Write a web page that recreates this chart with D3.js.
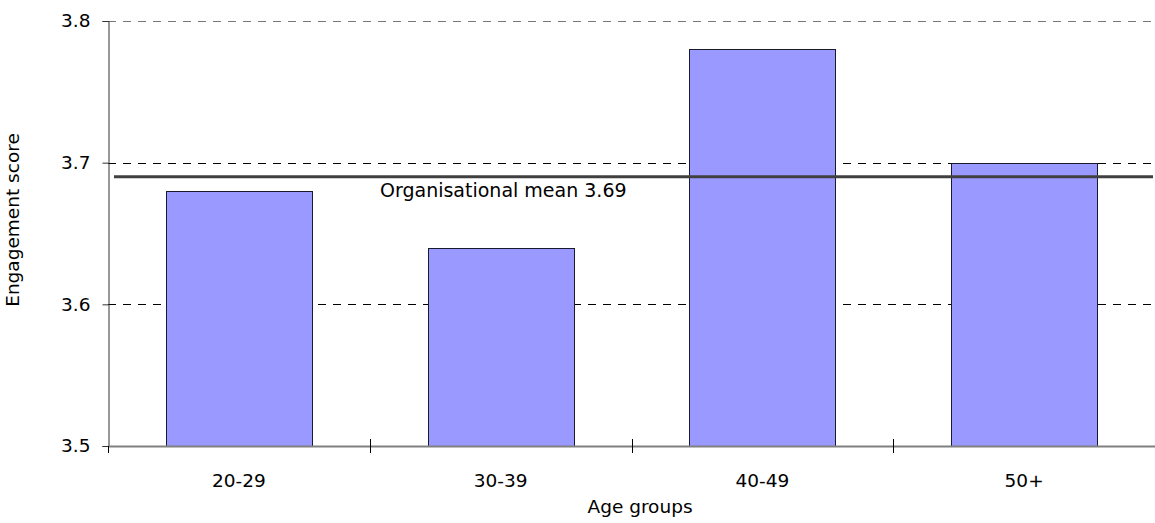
<!DOCTYPE html>
<html>
<head>
<meta charset="utf-8">
<script src="https://cdn.jsdelivr.net/npm/d3@7"></script>
<style>
  html, body { margin: 0; padding: 0; background: #fff; }
  svg text { font-family: "DejaVu Sans", sans-serif; fill: #000; }
</style>
</head>
<body>
<svg id="chart" width="1155" height="523"></svg>
<script>
// Engagement score by age group
const ageGroups = ["20-29", "30-39", "40-49", "50+"];
const scores = [3.68, 3.64, 3.78, 3.70];
const yTicks = [3.5, 3.6, 3.7, 3.8];
const orgMean = 3.69;
const meanLabel = "Organisational mean 3.69";

const svg = d3.select("#chart");
const margin = { left: 108, right: 0, top: 21, bottom: 77 };
const W = 1155, H = 523;
const fs = 18.5;

const x = d3.scaleBand()
  .domain(ageGroups)
  .range([margin.left, W - margin.right])
  .paddingInner(0.443)
  .paddingOuter(0.2215);

const y = d3.scaleLinear()
  .domain([3.5, 3.8])
  .range([H - margin.bottom, margin.top]);

// dashed gridlines
svg.append("g")
  .selectAll("line")
  .data(yTicks.filter(v => v > 3.5))
  .join("line")
  .attr("x1", margin.left)
  .attr("x2", W)
  .attr("y1", d => Math.round(y(d)) + 0.5)
  .attr("y2", d => Math.round(y(d)) + 0.5)
  .attr("stroke", d => d === 3.8 ? "#777" : "#000")
  .attr("stroke-width", 1)
  .attr("stroke-dasharray", "8,7");

// bars
svg.append("g")
  .selectAll("rect")
  .data(ageGroups)
  .join("rect")
  .attr("x", d => Math.round(x(d)) + 0.5)
  .attr("width", Math.round(x.bandwidth()))
  .attr("y", (d, i) => Math.round(y(scores[i])) + 0.5)
  .attr("height", (d, i) => Math.round(y(3.5)) - Math.round(y(scores[i])))
  .attr("fill", "#9999ff")
  .attr("stroke", "#1a1a2e")
  .attr("stroke-width", 1);

// organisational mean line
svg.append("line")
  .attr("x1", margin.left + 6)
  .attr("x2", W - 2)
  .attr("y1", y(orgMean))
  .attr("y2", y(orgMean))
  .attr("stroke", "#404040")
  .attr("stroke-width", 3);

svg.append("text")
  .attr("x", 380)
  .attr("y", y(orgMean) + 20)
  .attr("font-size", 19)
  .text(meanLabel);

// y axis
const yAxis = d3.axisLeft(y)
  .tickValues(yTicks)
  .tickFormat(d3.format(".1f"))
  .tickSize(6)
  .tickPadding(12);
const gy = svg.append("g")
  .attr("transform", `translate(${margin.left + 0.5},0)`)
  .call(yAxis);
gy.select(".domain").attr("stroke", "#333");
gy.selectAll(".tick line").attr("stroke", "#333");
gy.selectAll(".tick text").attr("font-size", fs).attr("font-family", "DejaVu Sans");

// x axis: ticks at band boundaries
const boundaries = ageGroups.map(d => x(d) - x.step() * x.paddingInner() / 2);
const gx = svg.append("g");
gx.append("line")
  .attr("x1", margin.left)
  .attr("x2", W)
  .attr("y1", y(3.5) + 0.5)
  .attr("y2", y(3.5) + 0.5)
  .attr("stroke", "#808080")
  .attr("stroke-width", 2);
gx.selectAll("line.tk")
  .data(boundaries)
  .join("line")
  .attr("class", "tk")
  .attr("x1", d => Math.round(d) + 0.5)
  .attr("x2", d => Math.round(d) + 0.5)
  .attr("y1", (d, i) => i === 0 ? y(3.5) : y(3.5) - 7)
  .attr("y2", y(3.5) + 7)
  .attr("stroke", "#000");
gx.selectAll("text")
  .data(ageGroups)
  .join("text")
  .attr("x", d => x(d) + x.bandwidth() / 2)
  .attr("y", y(3.5) + 41)
  .attr("text-anchor", "middle")
  .attr("font-size", fs)
  .text(d => d);

// axis titles
svg.append("text")
  .attr("x", 640)
  .attr("y", 513)
  .attr("text-anchor", "middle")
  .attr("font-size", fs)
  .text("Age groups");

svg.append("text")
  .attr("transform", `translate(19,${220}) rotate(-90)`)
  .attr("text-anchor", "middle")
  .attr("font-size", fs)
  .text("Engagement score");
</script>
</body>
</html>
